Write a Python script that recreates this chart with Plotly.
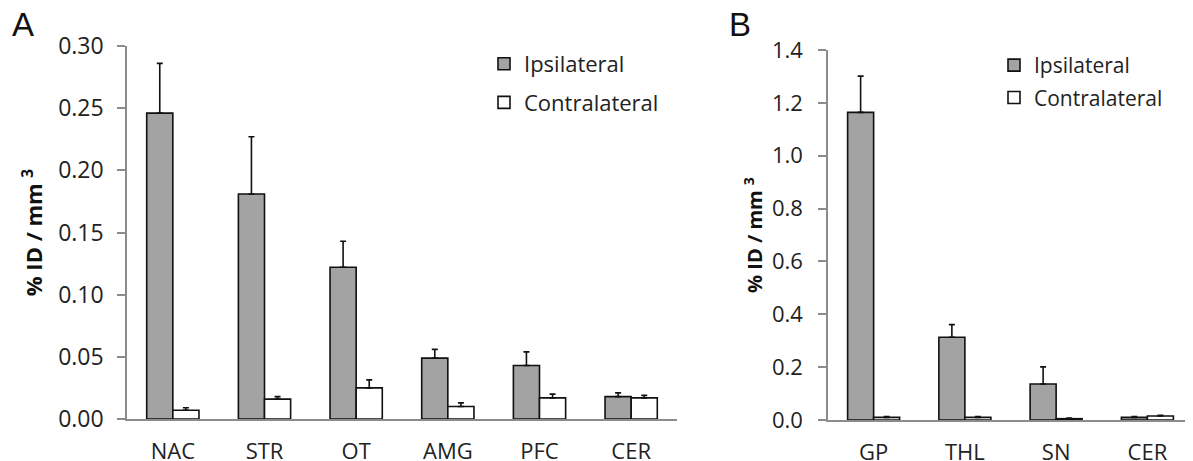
import plotly.graph_objects as go

# Panel A data
cats_a = ["NAC", "STR", "OT", "AMG", "PFC", "CER"]
ipsi_a = [0.246, 0.181, 0.122, 0.049, 0.043, 0.018]
ipsi_a_err = [0.040, 0.046, 0.021, 0.007, 0.011, 0.003]
contra_a = [0.007, 0.016, 0.025, 0.010, 0.017, 0.017]
contra_a_err = [0.002, 0.002, 0.0065, 0.003, 0.003, 0.002]

# Panel B data
cats_b = ["GP", "THL", "SN", "CER"]
ipsi_b = [1.164, 0.313, 0.136, 0.010]
ipsi_b_err = [0.137, 0.048, 0.065, 0.003]
contra_b = [0.010, 0.010, 0.005, 0.015]
contra_b_err = [0.003, 0.003, 0.002, 0.003]

yticks_a = [0.00, 0.05, 0.10, 0.15, 0.20, 0.25, 0.30]
yticks_b = [0.0, 0.2, 0.4, 0.6, 0.8, 1.0, 1.2, 1.4]

GRAY = "#a3a3a3"
FONT = "Open Sans"
# page body has an 8px default margin; size the figure to fit the window
OFF = 8
W, H = 1193 - OFF, 461 - OFF


def px(X):
    return (X - OFF) / W


def py(Y):
    return 1 - (Y - OFF) / H


def bar(x, y, err, name, color, xa, ya, legend, group):
    return go.Bar(
        x=x, y=y, name=name, xaxis=xa, yaxis=ya, legend=legend, legendgroup=group,
        marker=dict(color=color, line=dict(color="#111111", width=1.6)),
        error_y=dict(type="data", array=err, arrayminus=[0] * len(err), symmetric=False,
                     color="#111111", thickness=1.6, width=3),
    )


fig = go.Figure()
fig.add_trace(bar(cats_a, ipsi_a, ipsi_a_err, "Ipsilateral", GRAY, "x", "y", "legend", "a1"))
fig.add_trace(bar(cats_a, contra_a, contra_a_err, "Contralateral", "white", "x", "y", "legend", "a2"))
fig.add_trace(bar(cats_b, ipsi_b, ipsi_b_err, "Ipsilateral", GRAY, "x2", "y2", "legend2", "b1"))
fig.add_trace(bar(cats_b, contra_b, contra_b_err, "Contralateral", "white", "x2", "y2", "legend2", "b2"))

line_common = dict(showline=True, linecolor="#8c8c8c", linewidth=1.5, showgrid=False,
                   zeroline=False, automargin=False)


def ytitle(size, standoff):
    return dict(text="<b>% ID / mm <sup>3</sup></b>", standoff=standoff,
                font=dict(family=FONT, size=size, color="#111111"))


fig.update_layout(
    width=W, height=H,
    margin=dict(l=0, r=0, t=0, b=0, autoexpand=False),
    paper_bgcolor="white", plot_bgcolor="white",
    barmode="group", bargap=0.43, bargroupgap=0,
    font=dict(family=FONT, color="#222222"),
    xaxis=dict(domain=[px(127), px(677)], anchor="y", ticks="", ticklabelstandoff=12,
               range=[-0.5, 5.5], tickfont=dict(family=FONT, size=22, color="#222222"),
               **line_common),
    yaxis=dict(domain=[py(419), py(46)], anchor="x", range=[0, 0.30], tickvals=yticks_a,
               tickformat=".2f", ticks="outside", ticklen=8, tickcolor="#8c8c8c", tickwidth=1.5,
               ticklabelstandoff=9, tickfont=dict(family=FONT, size=23, color="#222222"),
               title=ytitle(22, 9), **line_common),
    xaxis2=dict(domain=[px(828), 1.0], anchor="y2", ticks="", ticklabelstandoff=12,
                range=[-0.5, 3.5], tickfont=dict(family=FONT, size=22, color="#222222"),
                **line_common),
    yaxis2=dict(domain=[py(420), py(50)], anchor="x2", range=[0, 1.4], tickvals=yticks_b,
                tickformat=".1f", ticks="outside", ticklen=8, tickcolor="#8c8c8c", tickwidth=1.5,
                ticklabelstandoff=11, tickfont=dict(family=FONT, size=22, color="#222222"),
                title=ytitle(20, 4), **line_common),
    legend=dict(x=px(484), y=py(43), xanchor="left", yanchor="top",
                font=dict(family=FONT, size=22, color="#222222"),
                traceorder="grouped", tracegroupgap=7,
                bgcolor="rgba(0,0,0,0)", itemwidth=30),
    legend2=dict(x=px(994), y=py(45), xanchor="left", yanchor="top",
                 font=dict(family=FONT, size=21, color="#222222"),
                 traceorder="grouped", tracegroupgap=2,
                 bgcolor="rgba(0,0,0,0)", itemwidth=30),
    annotations=[
        dict(text="A", x=px(10), y=py(25), xref="paper", yref="paper", xanchor="left",
             yanchor="middle", showarrow=False,
             font=dict(family="Liberation Sans", size=33, color="#111111")),
        dict(text="B", x=px(727), y=py(25), xref="paper", yref="paper", xanchor="left",
             yanchor="middle", showarrow=False,
             font=dict(family="Liberation Sans", size=33, color="#111111")),
    ],
)

fig.write_html("out.html")
